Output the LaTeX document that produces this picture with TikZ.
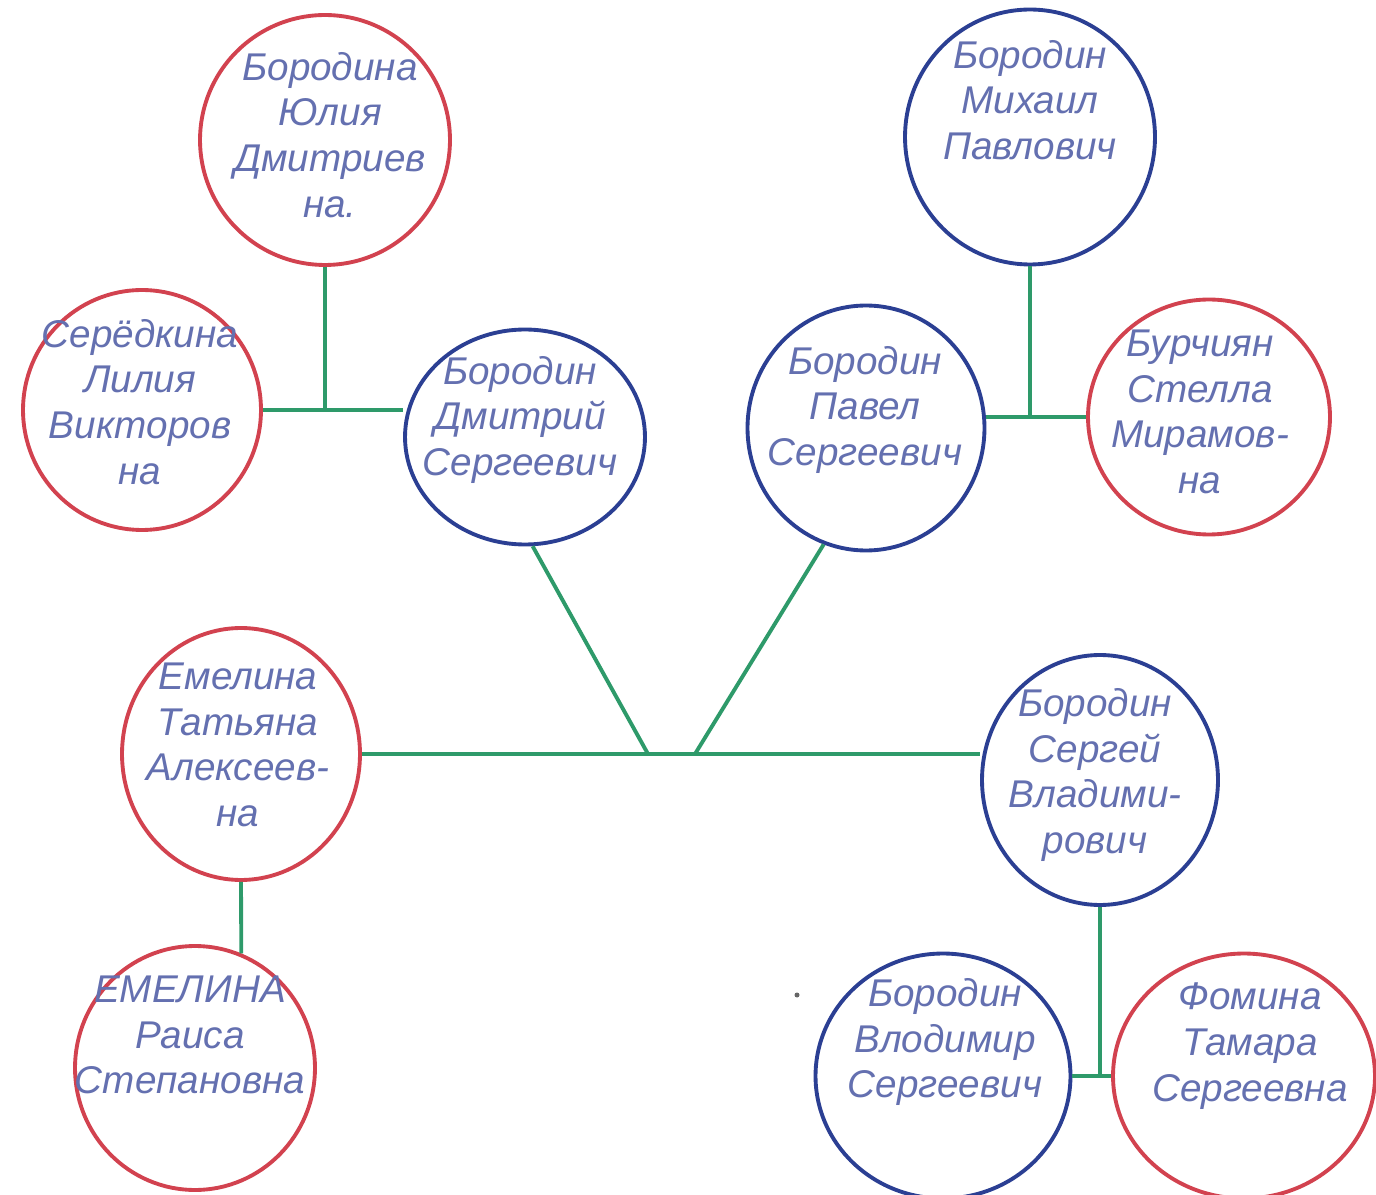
\documentclass[tikz,border=0pt]{standalone}
\usepackage{fontspec}
\setmainfont{Liberation Sans}
\usetikzlibrary{shapes.geometric}
\definecolor{pred}{HTML}{D2424F}
\definecolor{pblue}{HTML}{2B3F93}
\definecolor{pgreen}{HTML}{2E9A6A}
\definecolor{ink}{HTML}{6470B0}
\begin{document}
\begin{tikzpicture}[x=0.02cm,y=-0.02cm,
  person/.style={ellipse, draw, line width=2.2pt, inner sep=0pt},
  fem/.style={person, draw=pred},
  mal/.style={person, draw=pblue},
  handtext/.style={text=ink, font=\fontsize{22}{26}\selectfont\itshape, align=center},
  link/.style={draw=pgreen, line width=2.2pt}]
\useasboundingbox[fill=white] (0,0) rectangle (1376,1195);
% people
\node[fem, minimum width=5cm,    minimum height=5cm]    (yulia)   at (325,140)  {};
\node[mal, minimum width=5cm,    minimum height=5.1cm]  (mikhail) at (1030,137) {};
\node[fem, minimum width=4.76cm, minimum height=4.8cm]  (lilia)   at (142,410)  {};
\node[mal, minimum width=4.8cm,  minimum height=4.3cm]  (dmitry)  at (525,437)  {};
\node[mal, minimum width=4.74cm, minimum height=4.9cm]  (pavel)   at (866,428)  {};
\node[fem, minimum width=4.84cm, minimum height=4.7cm]  (stella)  at (1209,417) {};
\node[fem, minimum width=4.76cm, minimum height=5.04cm] (tatiana) at (241,754)  {};
\node[mal, minimum width=4.72cm, minimum height=5cm]    (sergey)  at (1100,780) {};
\node[fem, minimum width=4.8cm,  minimum height=4.88cm] (raisa)   at (195,1068) {};
\node[mal, minimum width=5.1cm,  minimum height=4.9cm]  (vlad)    at (943,1076) {};
\node[fem, minimum width=5.24cm, minimum height=4.9cm]  (tamara)  at (1244,1076) {};
% names
\node[handtext] (tyulia)   at (330,135)  {Бородина\\Юлия\\Дмитриев\\на.};
\node[handtext] (tmikhail) at (1030,100) {Бородин\\Михаил\\Павлович};
\node[handtext] (tlilia)   at (140,402)  {Серёдкина\\Лилия\\Викторов\\на};
\node[handtext] (tdmitry)  at (520,420)  {Бородин\\Дмитрий\\Сергеевич};
\node[handtext] (tpavel)   at (865,410)  {Бородин\\Павел\\Сергеевич};
\node[handtext] (tstella)  at (1200,412) {Бурчиян\\Стелла\\Мирамов-\\на};
\node[handtext] (ttatiana) at (238,745)  {Емелина\\Татьяна\\Алексеев-\\на};
\node[handtext] (tsergey)  at (1095,775) {Бородин\\Сергей\\Владими-\\рович};
\node[handtext] (traisa)   at (190,1035) {ЕМЕЛИНА\\Раиса\\Степановна};
\node[handtext] (tvlad)    at (945,1042) {Бородин\\Влодимир\\Сергеевич};
\node[handtext] (ttamara)  at (1250,1046) {Фомина\\Тамара\\Сергеевна};
% connectors
\coordinate (jy) at (yulia.south |- lilia.east);
\draw[link] (lilia.east) -- (lilia.east -| dmitry.west);
\draw[link] (yulia.south) -- (jy);
\coordinate (jm) at (mikhail.south |- stella.west);
\draw[link] (stella.west -| pavel.east) -- (stella.west);
\draw[link] (mikhail.south) -- (jm);
\coordinate (jd) at (648,754);
\coordinate (jp) at (695,754);
\draw[link] (tatiana.east) -- (tatiana.east -| sergey.west);
\draw[link] (dmitry.-86) -- (jd);
\draw[link] (pavel.-110) -- (jp);
\draw[link] (tatiana.south) -- (raisa.68);
\coordinate (js) at (sergey.south |- vlad.east);
\draw[link] (vlad.east) -- (tamara.west);
\draw[link] (sergey.south) -- (js);
% stray pen dot
\node[circle, fill=black!60, inner sep=0pt, minimum size=0.1cm] (dot) at (797,995) {};
\end{tikzpicture}
\end{document}
